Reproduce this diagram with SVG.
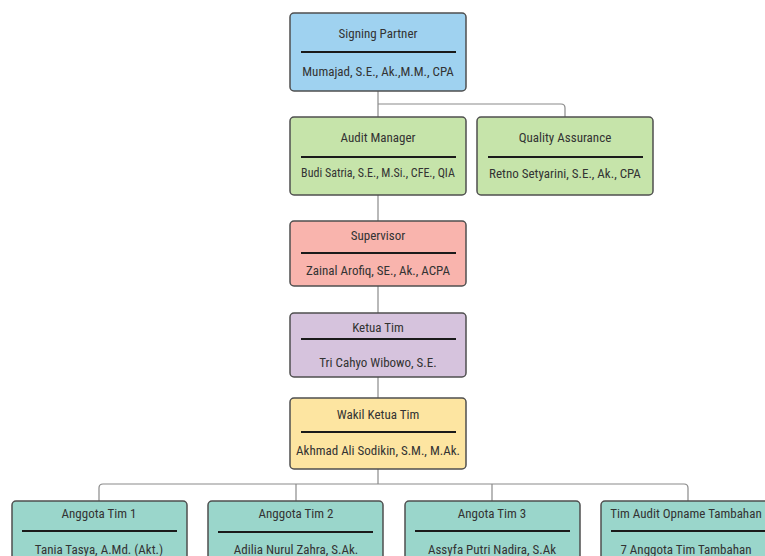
<svg xmlns="http://www.w3.org/2000/svg" width="765" height="556" viewBox="0 0 765 556">
<style>
.box{stroke:#4f4f4f;stroke-width:1.5}
.div{stroke:#1a1a1a;stroke-width:2}
.t{font-family:"Liberation Sans Narrow","Roboto Condensed","Liberation Sans",sans-serif;font-size:13px;fill:#333;text-anchor:middle;dominant-baseline:central}
.c{fill:none;stroke:#8a8a8a;stroke-width:1.2}
</style>
<rect width="765" height="556" fill="#fff"/>
<g id="connectors">
<path class="c" d="M378 91 V117"/>
<path class="c" d="M378 104 H561 Q565 104 565 108 V117"/>
<path class="c" d="M378 195 V221"/>
<path class="c" d="M378 286 V313"/>
<path class="c" d="M378 377 V398"/>
<path class="c" d="M378 469 V484"/>
<path class="c" d="M103 484 H684 Q688 484 688 488 V501"/>
<path class="c" d="M103 484 Q99 484 99 488 V501"/>
<path class="c" d="M296 484 V501"/>
<path class="c" d="M492 484 V501"/>
</g>
<g id="signing-partner">
<rect class="box" x="290" y="13" width="176" height="78" rx="4" fill="#9fd2f0"/>
<line class="div" x1="301" y1="52" x2="456" y2="52"/>
<text class="t" x="378" y="33">Signing Partner</text>
<text class="t" x="378" y="71">Mumajad, S.E., Ak.,M.M., CPA</text>
</g>
<g id="audit-manager">
<rect class="box" x="290" y="117" width="176" height="78" rx="4" fill="#c6e4aa"/>
<line class="div" x1="301" y1="157" x2="456" y2="157"/>
<text class="t" x="378" y="137">Audit Manager</text>
<text class="t" x="378" y="173" style="font-size:12px">Budi Satria, S.E., M.Si., CFE., QIA</text>
</g>
<g id="quality-assurance">
<rect class="box" x="477" y="117" width="176" height="78" rx="4" fill="#c6e4aa"/>
<line class="div" x1="488" y1="157" x2="643" y2="157"/>
<text class="t" x="565" y="137">Quality Assurance</text>
<text class="t" x="565" y="173">Retno Setyarini, S.E., Ak., CPA</text>
</g>
<g id="supervisor">
<rect class="box" x="290" y="221" width="176" height="65" rx="4" fill="#f9b4ad"/>
<line class="div" x1="301" y1="253" x2="456" y2="253"/>
<text class="t" x="378" y="235">Supervisor</text>
<text class="t" x="378" y="270">Zainal Arofiq, SE., Ak., ACPA</text>
</g>
<g id="ketua-tim">
<rect class="box" x="290" y="313" width="176" height="64" rx="4" fill="#d6c3dd"/>
<line class="div" x1="301" y1="339" x2="456" y2="339"/>
<text class="t" x="378" y="327">Ketua Tim</text>
<text class="t" x="378" y="362">Tri Cahyo Wibowo, S.E.</text>
</g>
<g id="wakil-ketua-tim">
<rect class="box" x="290" y="398" width="176" height="71" rx="4" fill="#fde5a1"/>
<line class="div" x1="301" y1="432" x2="456" y2="432"/>
<text class="t" x="378" y="414">Wakil Ketua Tim</text>
<text class="t" x="378" y="450">Akhmad Ali Sodikin, S.M., M.Ak.</text>
</g>
<g id="anggota-1">
<rect class="box" x="12" y="501" width="175" height="70" rx="4" fill="#9ad6cb"/>
<line class="div" x1="22" y1="531" x2="177" y2="531"/>
<text class="t" x="99" y="513">Anggota Tim 1</text>
<text class="t" x="99" y="549">Tania Tasya, A.Md. (Akt.)</text>
</g>
<g id="anggota-2">
<rect class="box" x="208" y="501" width="175" height="70" rx="4" fill="#9ad6cb"/>
<line class="div" x1="218" y1="532" x2="373" y2="532"/>
<text class="t" x="296" y="513">Anggota Tim 2</text>
<text class="t" x="296" y="549">Adilia Nurul Zahra, S.Ak.</text>
</g>
<g id="anggota-3">
<rect class="box" x="405" y="501" width="175" height="70" rx="4" fill="#9ad6cb"/>
<line class="div" x1="415" y1="531" x2="570" y2="531"/>
<text class="t" x="492" y="513">Angota Tim 3</text>
<text class="t" x="492" y="549">Assyfa Putri Nadira, S.Ak</text>
</g>
<g id="tim-audit-opname">
<rect class="box" x="601" y="501" width="175" height="70" rx="4" fill="#9ad6cb"/>
<line class="div" x1="611" y1="531" x2="766" y2="531"/>
<text class="t" x="686" y="513">Tim Audit Opname Tambahan</text>
<text class="t" x="686" y="549">7 Anggota Tim Tambahan</text>
</g>
</svg>
